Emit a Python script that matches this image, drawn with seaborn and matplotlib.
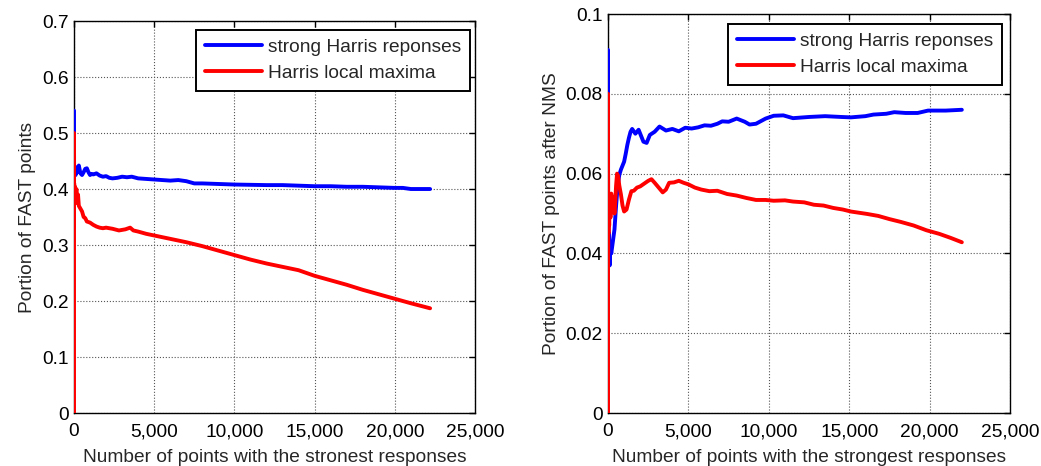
import matplotlib
matplotlib.use("Agg")
import matplotlib.pyplot as plt
import matplotlib.ticker as mticker
import seaborn as sns
import pandas as pd

# Cumulative portion of FAST points among the N strongest Harris responses
left_strong_x = [0, 1, 2, 5, 20, 50, 100, 150, 200, 300, 400, 500, 600, 700, 800, 900, 1000,
                 1100, 1200, 1400, 1600, 1800, 2000, 2200, 2400, 2700, 3000, 3300, 3600, 4000,
                 4500, 5000, 5500, 6000, 6500, 7000, 7500, 8000, 9000, 10000, 11000, 12000,
                 13000, 14000, 15000, 16000, 17000, 18000, 19000, 20000, 20500, 21000, 22200]
left_strong_y = [0.54, 0.50, 0.47, 0.445, 0.43, 0.44, 0.425, 0.438, 0.43, 0.442, 0.428, 0.425,
                 0.43, 0.436, 0.437, 0.43, 0.425, 0.427, 0.426, 0.428, 0.424, 0.422, 0.423, 0.420,
                 0.419, 0.420, 0.422, 0.421, 0.422, 0.419, 0.418, 0.417, 0.416, 0.415, 0.416,
                 0.414, 0.410, 0.410, 0.409, 0.408, 0.4075, 0.407, 0.407, 0.406, 0.405, 0.405,
                 0.404, 0.404, 0.403, 0.402, 0.402, 0.400, 0.400]

left_local_x = [0, 1, 2, 3, 5, 10, 20, 40, 60, 100, 150, 200, 250, 300, 400, 500, 600, 700, 800,
                1000, 1200, 1400, 1600, 1800, 2000, 2400, 2800, 3200, 3500, 3700, 4000, 4500,
                5000, 5500, 6000, 6500, 7000, 8000, 9000, 10000, 11000, 12000, 13000, 14000,
                15000, 16000, 17000, 18000, 19000, 20000, 21000, 22200]
left_local_y = [0.0, 0.5, 0.333, 0.42, 0.38, 0.41, 0.39, 0.405, 0.395, 0.385, 0.40, 0.375, 0.39,
                0.37, 0.365, 0.36, 0.35, 0.348, 0.342, 0.34, 0.336, 0.333, 0.331, 0.330, 0.331,
                0.329, 0.326, 0.328, 0.331, 0.326, 0.324, 0.320, 0.317, 0.314, 0.311, 0.308,
                0.305, 0.298, 0.290, 0.282, 0.274, 0.267, 0.261, 0.255, 0.245, 0.237, 0.229,
                0.220, 0.212, 0.204, 0.196, 0.187]

# Same measure after non-maximum suppression
right_strong_x = [0, 1, 2, 5, 10, 30, 60, 100, 150, 200, 300, 400, 500, 600, 700, 800, 900, 1000,
                  1100, 1200, 1300, 1400, 1500, 1700, 1900, 2100, 2200, 2400, 2600, 2900, 3200,
                  3600, 4000, 4400, 4800, 5200, 5600, 6000, 6400, 6800, 7100, 7500, 8000, 8500,
                  8800, 9200, 9800, 10300, 10900, 11500, 12500, 13500, 14500, 15100, 16000,
                  16500, 17300, 17800, 18500, 19250, 19900, 21000, 22000]
right_strong_y = [0.091, 0.080, 0.06, 0.045, 0.05, 0.04, 0.045, 0.037, 0.042, 0.040, 0.043,
                  0.046, 0.052, 0.057, 0.0597, 0.061, 0.062, 0.063, 0.065, 0.0672, 0.069, 0.0705,
                  0.0712, 0.070, 0.071, 0.069, 0.068, 0.0677, 0.0697, 0.0705, 0.0718, 0.0708,
                  0.0712, 0.0706, 0.0715, 0.0713, 0.0716, 0.0721, 0.072, 0.0725, 0.0731, 0.073,
                  0.0738, 0.073, 0.0723, 0.0725, 0.0738, 0.0745, 0.0746, 0.0739, 0.0742, 0.0744,
                  0.0742, 0.0741, 0.0744, 0.0748, 0.075, 0.0754, 0.0752, 0.0752, 0.0758, 0.0758,
                  0.0760]

right_local_x = [0, 1, 2, 3, 5, 10, 20, 40, 70, 100, 150, 200, 250, 300, 350, 400, 450, 500, 560,
                 620, 700, 800, 900, 1000, 1150, 1300, 1450, 1600, 1800, 2000, 2250, 2500, 2700,
                 2900, 3150, 3400, 3600, 3800, 4100, 4400, 4700, 5000, 5400, 5800, 6300, 6800,
                 7400, 8000, 8600, 9200, 9800, 10300, 11000, 11500, 12200, 12800, 13400, 14000,
                 14600, 15100, 15600, 16100, 16800, 17500, 18200, 19000, 19800, 20600, 21300,
                 22000]
right_local_y = [0.0, 0.08, 0.053, 0.06, 0.04, 0.05, 0.045, 0.052, 0.047, 0.053, 0.049, 0.055,
                 0.051, 0.054, 0.0525, 0.050, 0.053, 0.057, 0.060, 0.0595, 0.057, 0.0548, 0.052,
                 0.0505, 0.051, 0.0535, 0.0556, 0.0557, 0.0565, 0.0568, 0.0575, 0.0582, 0.0586,
                 0.0577, 0.0565, 0.0553, 0.056, 0.0577, 0.0578, 0.0582, 0.0577, 0.0573, 0.0565,
                 0.056, 0.0556, 0.0557, 0.0549, 0.0545, 0.0539, 0.0534, 0.0534, 0.0532, 0.0533,
                 0.0530, 0.0528, 0.0522, 0.052, 0.0514, 0.051, 0.0505, 0.0502, 0.0499, 0.0494,
                 0.0486, 0.0479, 0.047, 0.0458, 0.0449, 0.0439, 0.0428]

series_labels = ["strong Harris reponses", "Harris local maxima"]
x_ticks = [0, 5000, 10000, 15000, 20000, 25000]
left_y_ticks = [0, 0.1, 0.2, 0.3, 0.4, 0.5, 0.6, 0.7]
right_y_ticks = [0, 0.02, 0.04, 0.06, 0.08, 0.1]

FS = 13.8

sns.set_theme(style="white")
plt.rcParams["font.family"] = ["Liberation Sans", "DejaVu Sans"]
plt.rcParams["font.size"] = FS

fig = plt.figure(figsize=(10.41, 4.66), dpi=100)
ax_l = fig.add_axes([0.0711, 0.1137, 0.3852, 0.8412])
ax_r = fig.add_axes([0.5841, 0.1137, 0.3862, 0.8562])


def frame(sx, sy, lx, ly):
    a = pd.DataFrame({"n": sx, "p": sy, "kind": series_labels[0]})
    b = pd.DataFrame({"n": lx, "p": ly, "kind": series_labels[1]})
    return pd.concat([a, b], ignore_index=True)


def draw(ax, df, yticks, ylim, ylabel, xlabel, anchor):
    sns.lineplot(data=df, x="n", y="p", hue="kind", hue_order=series_labels,
                 palette=["#0000ff", "#ff0000"], sort=False, estimator=None,
                 linewidth=2.8, zorder=3, ax=ax)
    ax.set_xlim(0, 25000)
    ax.set_ylim(*ylim)
    ax.set_xticks(x_ticks)
    ax.set_yticks(yticks)
    ax.xaxis.set_major_formatter(mticker.FuncFormatter(lambda v, p: f"{int(v):,}"))
    ax.yaxis.set_major_formatter(mticker.FuncFormatter(lambda v, p: f"{v:g}"))
    ax.grid(True, linestyle=":", color="#555555", linewidth=0.8)
    ax.tick_params(direction="in", length=4, width=1, top=True, right=True,
                   labelsize=FS, colors="black", pad=4)
    ax.tick_params(axis="x", pad=7.5)
    for s in ax.spines.values():
        s.set_color("black")
        s.set_linewidth(1)
    ax.set_xlabel(xlabel, fontsize=FS, labelpad=6)
    ax.set_ylabel(ylabel, fontsize=FS, labelpad=4)
    leg = ax.legend(loc="upper right", bbox_to_anchor=anchor, fontsize=FS,
                    frameon=True, fancybox=False, framealpha=1, edgecolor="black",
                    handlelength=3.0, handletextpad=0.3, labelspacing=0.45,
                    borderpad=0.45, borderaxespad=0)
    leg.get_frame().set_linewidth(1.4)
    for h in leg.get_lines():
        h.set_linewidth(2.8)


draw(ax_l, frame(left_strong_x, left_strong_y, left_local_x, left_local_y),
     left_y_ticks, (0, 0.7), "Portion of FAST points",
     "Number of points with the stronest responses", (0.9875, 0.977))
draw(ax_r, frame(right_strong_x, right_strong_y, right_local_x, right_local_y),
     right_y_ticks, (0, 0.1), "Portion of FAST points after NMS",
     "Number of points with the strongest responses", (0.980, 0.975))

fig.savefig("out.png", dpi=100, facecolor="white")
